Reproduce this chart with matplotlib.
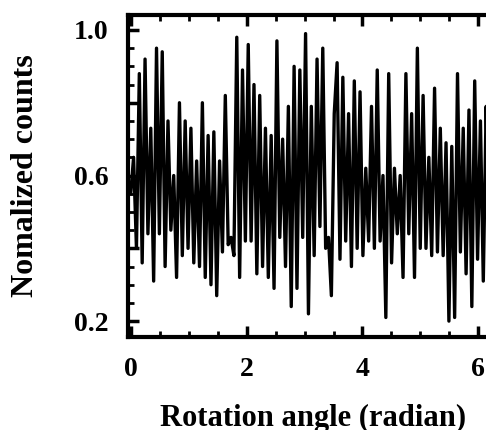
import numpy as np
import matplotlib
matplotlib.use("Agg")
import matplotlib.pyplot as plt
from matplotlib.ticker import MultipleLocator, FuncFormatter

# --- dados (contagens normalizadas) ---
counts = [
    0.55, 0.65, 0.40, 0.88, 0.36, 0.92, 0.44, 0.73, 0.31, 0.95,
    0.44, 0.94, 0.35, 0.75, 0.45, 0.60, 0.32, 0.80, 0.38, 0.75,
    0.40, 0.73, 0.36, 0.64, 0.35, 0.80, 0.32, 0.71, 0.30, 0.72,
    0.27, 0.64, 0.39, 0.82, 0.41, 0.43, 0.38, 0.98, 0.32, 0.89,
    0.42, 0.96, 0.42, 0.85, 0.33, 0.82, 0.35, 0.73, 0.32, 0.71,
    0.29, 0.97, 0.43, 0.70, 0.35, 0.79, 0.24, 0.90, 0.29, 0.89,
    0.43, 0.99, 0.22, 0.79, 0.38, 0.92, 0.46, 0.95, 0.40, 0.43,
    0.27, 0.77, 0.91, 0.37, 0.87, 0.42, 0.77, 0.35, 0.86, 0.40,
    0.83, 0.38, 0.62, 0.42, 0.79, 0.40, 0.89, 0.42, 0.60, 0.21,
    0.88, 0.36, 0.62, 0.44, 0.60, 0.32, 0.88, 0.44, 0.77, 0.32,
    0.95, 0.40, 0.82, 0.40, 0.65, 0.38, 0.84, 0.39, 0.73, 0.38,
    0.69, 0.20, 0.68, 0.21, 0.88, 0.39, 0.73, 0.33, 0.78, 0.24,
    0.86, 0.37, 0.75, 0.31, 0.79, 0.40, 0.85, 0.21,
]
angle = np.linspace(0, 2 * np.pi, len(counts))

y_labeled = [0.2, 0.6, 1.0]

plt.rcParams["font.family"] = ["Liberation Serif", "DejaVu Serif"]
plt.rcParams["font.weight"] = "bold"

fig = plt.figure(figsize=(4.86, 4.30), dpi=100)
# eixo passa da borda direita (figura original recortada)
ax = fig.add_axes([0.263, 0.216, 0.761, 0.749])

ax.plot(angle, counts, color="black", linewidth=2.4)

ax.set_xlim(-0.05, 2 * np.pi + 0.05)
ax.set_ylim(0.156, 1.041)

ax.xaxis.set_major_locator(MultipleLocator(2))
ax.xaxis.set_minor_locator(MultipleLocator(0.5))
ax.yaxis.set_major_locator(MultipleLocator(0.2))
ax.yaxis.set_minor_locator(MultipleLocator(0.05))

def ylab(v, pos):
    for t in y_labeled:
        if abs(v - t) < 1e-6:
            return f"{t:.1f}"
    return ""

ax.yaxis.set_major_formatter(FuncFormatter(ylab))
ax.xaxis.set_major_formatter(FuncFormatter(lambda v, p: f"{v:.0f}"))

for s in ax.spines.values():
    s.set_linewidth(3)

ax.tick_params(which="both", direction="in", top=True, right=True, labelsize=20)
ax.tick_params(which="major", length=8, width=2.5)
ax.tick_params(which="minor", length=4, width=2)
ax.tick_params(axis="y", which="major", pad=14)
ax.tick_params(axis="x", which="major", pad=14)
for lbl in ax.get_xticklabels() + ax.get_yticklabels():
    lbl.set_fontweight("bold")

ax.set_xlabel("Rotation angle (radian)", fontsize=22, fontweight="bold", labelpad=16)
ax.set_ylabel("Nomalized counts", fontsize=23, fontweight="bold", labelpad=24)

fig.savefig("out.png", dpi=100)
